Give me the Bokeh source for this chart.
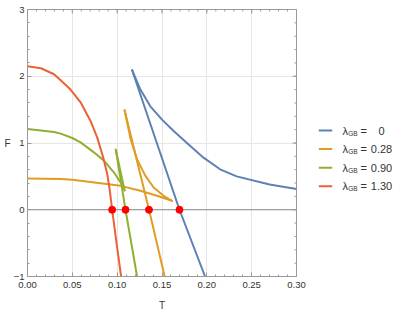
import math
from bokeh.plotting import figure
from bokeh.models import Range1d, FixedTicker, Span, CustomJSTickFormatter
from bokeh.layouts import row
from bokeh.embed import file_html
from bokeh.resources import INLINE
from bokeh.core.properties import value

# ---------------- data ----------------
lambda_labels = ["0", "0.28", "0.90", "1.30"]
colors = ["#5E81B5", "#E19C24", "#8FB032", "#EB6235"]

x_ticks = [0.0, 0.05, 0.10, 0.15, 0.20, 0.25, 0.30]
x_tick_labels = ["0.00", "0.05", "0.10", "0.15", "0.20", "0.25", "0.30"]
x_minor = [round(i * 0.01, 2) for i in range(31)]
y_ticks = [-1, 0, 1, 2, 3]
y_tick_labels = ["\u22121", "0", "1", "2", "3"]
y_minor = [round(-1 + i * 0.2, 1) for i in range(21)]

# lambda = 0
blue_small_T = [0.1167, 0.1259, 0.137, 0.150, 0.163, 0.1778, 0.1963, 0.2148, 0.2333, 0.270, 0.300]
blue_small_F = [2.09, 1.80, 1.55, 1.35, 1.18, 1.00, 0.78, 0.606, 0.50, 0.378, 0.31]
blue_large_T = [0.1167, 0.1695, 0.1980]
blue_large_F = [2.09, 0.0, -1.0]
# lambda = 0.28
orange_small_T = [0.0, 0.037, 0.05, 0.0814, 0.1037, 0.1259, 0.1444, 0.1611]
orange_small_F = [0.47, 0.46, 0.448, 0.397, 0.358, 0.284, 0.209, 0.134]
orange_mid_T = [0.1083, 0.1148, 0.1222, 0.1315, 0.1407, 0.1518, 0.1611]
orange_mid_F = [1.49, 1.07, 0.755, 0.507, 0.333, 0.209, 0.134]
orange_large_T = [0.1083, 0.1355, 0.153]
orange_large_F = [1.49, 0.0, -1.0]
# lambda = 0.90
green_small_T = [0.0, 0.0296, 0.037, 0.05, 0.0592, 0.074, 0.0852, 0.0963, 0.1074, 0.1083]
green_small_F = [1.21, 1.165, 1.14, 1.075, 1.01, 0.86, 0.736, 0.561, 0.337, 0.29]
green_mid_T = [0.1083, 0.0985]
green_mid_F = [0.29, 0.90]
green_large_T = [0.0985, 0.1093, 0.1222]
green_large_F = [0.90, 0.0, -1.0]
# lambda = 1.30
red_T = [0.0, 0.015, 0.0296, 0.037, 0.048, 0.0592, 0.0703, 0.0778, 0.0844, 0.0889, 0.0918, 0.0944, 0.0989, 0.1044]
red_F = [2.15, 2.12, 2.03, 1.94, 1.80, 1.61, 1.33, 1.08, 0.785, 0.537, 0.288, 0.0, -0.46, -1.0]

dots_T = [0.0944, 0.1093, 0.1355, 0.1695]
dots_F = [0.0, 0.0, 0.0, 0.0]

branches = [
    [(blue_small_T, blue_small_F), (blue_large_T, blue_large_F)],
    [(orange_small_T, orange_small_F), (orange_mid_T, orange_mid_F), (orange_large_T, orange_large_F)],
    [(green_small_T, green_small_F), (green_mid_T, green_mid_F), (green_large_T, green_large_F)],
    [(red_T, red_F)],
]

FONT = "Liberation Sans"
AXIS_COLOR = "#9a9a9a"
TEXT_COLOR = "#333333"

X0, X1, Y0, Y1 = 0.0, 0.30, -1.0, 3.0

# ---------------- main plot ----------------
p = figure(width=310, height=316, x_range=Range1d(X0, X1), y_range=Range1d(Y0, Y1),
           output_backend="svg", toolbar_location=None,
           min_border_left=27, min_border_right=14, min_border_top=9, min_border_bottom=40,
           x_axis_label="T", y_axis_label="F")
p.outline_line_color = AXIS_COLOR
p.outline_line_width = 1
p.background_fill_color = "white"
p.border_fill_color = "white"

FMT_CODE = ("const i = tvals.findIndex(t => Math.abs(t - tick) < 1e-9); "
            "return i >= 0 ? tlabels[i] : '';")
xfmt = CustomJSTickFormatter(args=dict(tvals=x_ticks, tlabels=x_tick_labels), code=FMT_CODE)
yfmt = CustomJSTickFormatter(args=dict(tvals=y_ticks, tlabels=y_tick_labels), code=FMT_CODE)

for ax, ticks, minor, fmt in ((p.xaxis[0], x_ticks, x_minor, xfmt), (p.yaxis[0], y_ticks, y_minor, yfmt)):
    ax.ticker = FixedTicker(ticks=ticks, minor_ticks=minor)
    ax.formatter = fmt
    ax.axis_line_color = AXIS_COLOR
    ax.major_tick_line_color = AXIS_COLOR
    ax.minor_tick_line_color = AXIS_COLOR
    ax.major_tick_in = 4
    ax.major_tick_out = 0
    ax.minor_tick_in = 2
    ax.minor_tick_out = 0
    ax.major_label_text_font = FONT
    ax.major_label_text_font_size = "9.5px"
    ax.major_label_text_color = TEXT_COLOR
    ax.axis_label_text_font = FONT
    ax.axis_label_text_font_size = "10px"
    ax.axis_label_text_font_style = "normal"
    ax.axis_label_text_color = TEXT_COLOR
p.xaxis[0].major_label_standoff = 5
p.xaxis[0].axis_label_standoff = 9
p.yaxis[0].major_label_standoff = 3
p.yaxis[0].axis_label_standoff = 0
p.yaxis[0].axis_label_orientation = "horizontal"

# frame ticks on the top and right edges (inward)
p.ray(x=x_ticks, y=[Y1] * len(x_ticks), length=4, angle=-math.pi / 2, length_units="screen",
      line_color=AXIS_COLOR, line_width=1)
p.ray(x=x_minor, y=[Y1] * len(x_minor), length=2, angle=-math.pi / 2, length_units="screen",
      line_color=AXIS_COLOR, line_width=1)
p.ray(x=[X1] * len(y_ticks), y=y_ticks, length=4, angle=math.pi, length_units="screen",
      line_color=AXIS_COLOR, line_width=1)
p.ray(x=[X1] * len(y_minor), y=y_minor, length=2, angle=math.pi, length_units="screen",
      line_color=AXIS_COLOR, line_width=1)

p.xgrid.ticker = FixedTicker(ticks=x_ticks)
p.ygrid.ticker = FixedTicker(ticks=y_ticks)
p.grid.grid_line_color = "#e6e6e6"
p.grid.grid_line_width = 1

p.add_layout(Span(location=0, dimension="width", line_color="#8a8a8a", line_width=1, level="underlay"))

for col, brs in zip(colors, branches):
    for T, F in brs:
        p.line(T, F, line_color=col, line_width=2, line_join="round", line_cap="round")

p.scatter(dots_T, dots_F, size=7, fill_color="#ff0000", line_color="#ff0000")

# ---------------- legend (page-pixel coordinates) ----------------
leg = figure(width=89, height=316, x_range=Range1d(310, 399), y_range=Range1d(276, 9),
             output_backend="svg", toolbar_location=None,
             min_border_left=0, min_border_right=0, min_border_top=9, min_border_bottom=40)
leg.axis.visible = False
leg.grid.visible = False
leg.outline_line_color = None
leg.border_fill_color = "white"

n = len(lambda_labels)
row_y = [130 + i * 18.6 for i in range(n)]
LEG_FS = "11px"
leg.segment(x0=[318.3] * n, y0=row_y, x1=[331.7] * n, y1=row_y, line_color=colors, line_width=2)
leg.text(x=[342.0] * n, y=row_y, text=["\u03bb"] * n, text_font=value(FONT),
         text_font_size=value(LEG_FS), text_baseline="middle", text_align="left", text_color=TEXT_COLOR)
leg.text(x=[347.7] * n, y=[y + 2.5 for y in row_y], text=["GB"] * n, text_font=value(FONT),
         text_font_size=value("6.5px"), text_baseline="middle", text_align="left", text_color=TEXT_COLOR)
leg.text(x=[360.0] * n, y=row_y, text=["="] * n, text_font=value(FONT),
         text_font_size=value(LEG_FS), text_baseline="middle", text_align="left", text_color=TEXT_COLOR)
val_x = [384.0, 391.7, 391.7, 391.7]
leg.text(x=val_x, y=row_y, text=lambda_labels, text_font=value(FONT),
         text_font_size=value(LEG_FS), text_baseline="middle", text_align="right", text_color=TEXT_COLOR)

layout = row(p, leg)
open("out.html", "w").write(file_html(layout, INLINE))
